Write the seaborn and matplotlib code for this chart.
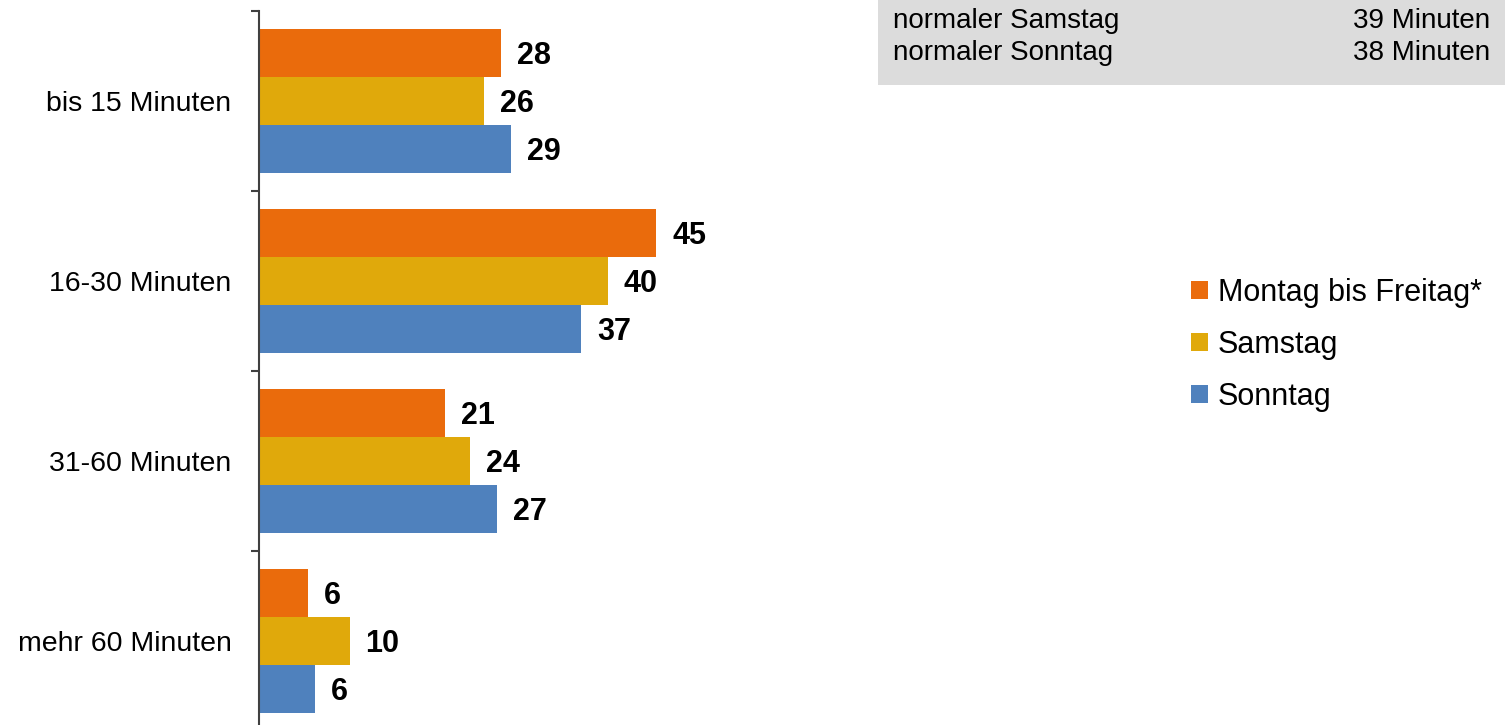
import matplotlib
matplotlib.use("Agg")
import matplotlib.pyplot as plt
import seaborn as sns
import pandas as pd
from matplotlib.patches import Rectangle

categories = ["bis 15 Minuten", "16-30 Minuten", "31-60 Minuten", "mehr 60 Minuten"]
series_names = ["Montag bis Freitag*", "Samstag", "Sonntag"]
# values (labels show them rounded)
mo_fr = [27.7, 45.4, 21.3, 5.6]
samstag = [25.7, 39.9, 24.1, 10.4]
sonntag = [28.8, 36.8, 27.2, 6.4]
summary_labels = ["normaler Samstag", "normaler Sonntag"]
summary_values = ["39 Minuten", "38 Minuten"]
colors = ["#EA6B0C", "#E0A90B", "#4F81BD"]

rows = []
for name, vals in zip(series_names, [mo_fr, samstag, sonntag]):
    for c, v in zip(categories, vals):
        rows.append({"Kategorie": c, "Tag": name, "Wert": v})
df = pd.DataFrame(rows)

sns.set_theme(style="white")
plt.rcParams["font.family"] = ["Liberation Sans", "DejaVu Sans"]

W, H = 1505, 725
fig = plt.figure(figsize=(W / 100, H / 100), dpi=100)
ax_left = 258.5 / W
ax_right = 0.6
ax = fig.add_axes([ax_left, -6 / H, ax_right - ax_left, 720 / H])

sns.barplot(data=df, y="Kategorie", x="Wert", hue="Tag", order=categories,
            hue_order=series_names, palette=colors, saturation=1, width=0.8,
            orient="h", ax=ax, linewidth=0, errorbar=None)

for cont in ax.containers:
    anns = ax.bar_label(cont, fmt="{:.0f}", padding=11.5, fontsize=22,
                        fontweight="bold", color="black")
    for a in anns:
        a.set_va("center_baseline")

px_per_unit = 8.76
ax.set_xlim(0, (ax_right - ax_left) * W / px_per_unit)
ax.set_ylim(len(categories) - 0.5, -0.5)

ax.set_xlabel("")
ax.set_ylabel("")
ax.xaxis.set_visible(False)
for s in ["top", "right", "bottom"]:
    ax.spines[s].set_visible(False)
ax.spines["left"].set_color("#404040")
ax.spines["left"].set_linewidth(1.5)

ax.set_yticks(range(len(categories)))
ax.set_yticklabels(categories, fontsize=20.5, color="black")
ax.set_yticks([i - 0.5 for i in range(len(categories) + 1)], minor=True)
ax.tick_params(axis="y", which="major", length=0, pad=19.5)
ax.tick_params(axis="y", which="minor", length=6, width=1.5, color="#404040", left=True)

leg = ax.legend(loc="center left", bbox_to_anchor=(1191 / W, 1 - 345 / H),
                bbox_transform=fig.transFigure, frameon=False, fontsize=22,
                handlelength=0.55, handleheight=0.55, handletextpad=0.33,
                labelspacing=0.72, borderpad=0, borderaxespad=0, title=None)
for t in leg.get_texts():
    t.set_color("black")

# summary box
fig.patches.append(Rectangle((878 / W, 1 - 85 / H), (W - 878) / W, 85 / H,
                             transform=fig.transFigure, facecolor="#DCDCDC",
                             edgecolor="none", zorder=0))
for i, (lab, val) in enumerate(zip(summary_labels, summary_values)):
    y = 1 - (27.5 + 33 * i) / H
    fig.text(893 / W, y, lab, ha="left", va="baseline", fontsize=20, color="black")
    fig.text(1490 / W, y, val, ha="right", va="baseline", fontsize=20, color="black")

fig.savefig("out.png", dpi=100)
